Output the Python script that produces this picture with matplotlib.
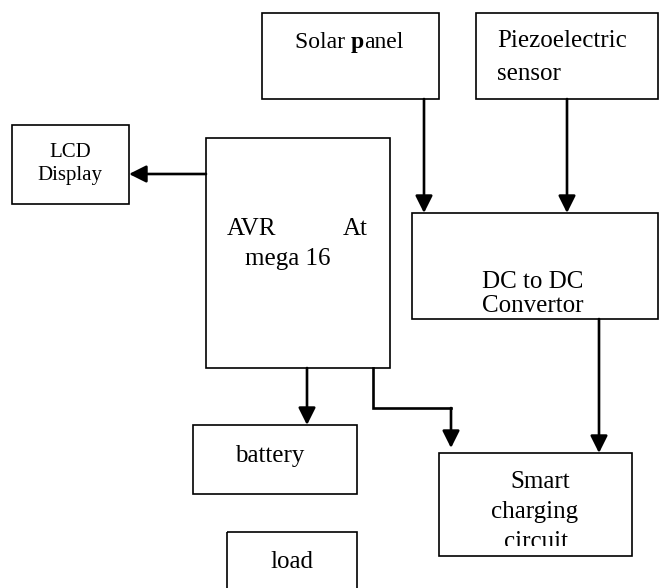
import matplotlib
matplotlib.use("Agg")
import matplotlib.pyplot as plt
from matplotlib.patches import Rectangle
from matplotlib.transforms import Bbox, TransformedBbox

# block names and their outlines (pixel coords, y down): x0, y0, x1, y1
block_names = ['solar', 'piezo', 'lcd', 'avr', 'dcdc', 'battery', 'smart', 'load']
block_x0 = [262, 476, 12, 206, 412, 193, 439, 227]
block_y0 = [13, 13, 125, 138, 213, 425, 453, 532]
block_x1 = [439, 658, 129, 390, 658, 357, 632, 357]
block_y1 = [99, 99, 204, 368, 319, 494, 556, 600]

# text lines: (string, x, baseline y, horizontal alignment, size)
label_text = ['Piezoelectric', 'sensor', 'LCD', 'Display', 'AVR', 'At', 'mega 16',
              'DC to DC', 'Convertor', 'battery', 'Smart', 'charging', 'circuit', 'load']
label_x = [497, 497, 70, 70, 227, 368, 245, 482, 482, 235, 540, 535, 536, 270]
label_y = [47, 80, 157, 180, 235, 235, 265, 288, 312, 462, 488, 518, 548, 568]
label_ha = ['left', 'left', 'center', 'center', 'left', 'right', 'left',
            'left', 'left', 'left', 'center', 'center', 'center', 'left']
label_size = [18, 18, 15, 15, 18, 18, 18, 18, 18, 18, 18, 18, 18, 18]

# straight arrows: start (x, y) -> end (x, y)
arrow_start = [(206, 174), (424, 99), (567, 99), (307, 368), (599, 319)]
arrow_end = [(129, 174), (424, 213), (567, 213), (307, 425), (599, 453)]

# elbow path from AVR to smart charging circuit
elbow_x = [373, 373, 451, 451]
elbow_y = [368, 408, 408, 448]

W, H = 659, 588
fig = plt.figure(figsize=(W / 100, H / 100), dpi=100)
ax = fig.add_axes([0, 0, 1, 1])
ax.set_xlim(0, W)
ax.set_ylim(H, 0)
ax.axis('off')

for x0, y0, x1, y1 in zip(block_x0, block_y0, block_x1, block_y1):
    ax.add_patch(Rectangle((x0, y0), x1 - x0, y1 - y0, fill=False,
                           edgecolor='black', linewidth=1.2))

font = 'Liberation Serif'

# "Solar panel" with a bold p
t1 = ax.text(295, 48, 'Solar ', fontsize=17, family=font, va='baseline')
t2 = ax.annotate('p', xy=(1, 0), xycoords=t1, fontsize=17, family=font,
                 fontweight='bold', va='bottom')
ax.annotate('anel', xy=(1, 0), xycoords=t2, fontsize=17, family=font, va='bottom')

for s, x, y, ha, fs in zip(label_text, label_x, label_y, label_ha, label_size):
    t = ax.text(x, y, s, fontsize=fs, family=font, ha=ha, va='baseline')
    if s == 'circuit':
        # text frame cuts the last line off
        t.set_clip_path(None)
        t.set_clip_box(TransformedBbox(Bbox([[440, 454], [631, 546]]), ax.transData))
        t.set_clip_on(True)

arrow_props = dict(arrowstyle='-|>', color='black', lw=1.9,
                   mutation_scale=26, shrinkA=0, shrinkB=0)
for (xs, ys), (xe, ye) in zip(arrow_start, arrow_end):
    ax.annotate('', xy=(xe, ye), xytext=(xs, ys), arrowprops=arrow_props)

ax.plot(elbow_x[:-1], elbow_y[:-1], color='black', lw=1.9, solid_joinstyle='miter')
ax.annotate('', xy=(elbow_x[-1], elbow_y[-1]), xytext=(elbow_x[-2], elbow_y[-2]),
            arrowprops=arrow_props)

fig.savefig('out.png', dpi=100)
